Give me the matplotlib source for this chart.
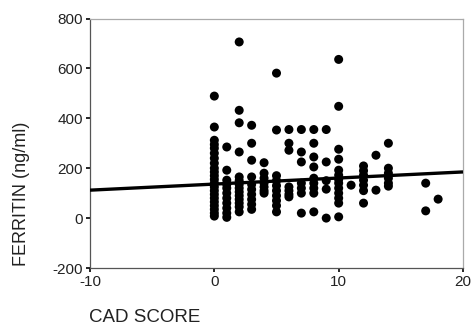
import matplotlib.pyplot as plt

# CAD score (x) and ferritin in ng/ml (y), one row of values per score column
cad_score = (
    [0] * 22
    + [1] * 11
    + [2] * 14
    + [3] * 10
    + [4] * 7
    + [5] * 10
    + [6] * 7
    + [7] * 7
    + [8] * 9
    + [9] * 5
    + [10] * 13
    + [11] * 1
    + [12] * 7
    + [13] * 2
    + [14] * 6
    + [17] * 2
    + [18] * 1
)
ferritin = (
    [489, 365, 312, 295, 280, 260, 240, 220, 200, 185, 170,
     155, 140, 125, 110, 95, 80, 65, 50, 35, 20, 8]
    + [285, 192, 152, 135, 120, 100, 80, 60, 40, 20, 3]
    + [706, 432, 382, 265, 165, 150, 135, 120, 105, 90, 75, 60, 45, 25]
    + [372, 300, 232, 165, 135, 115, 95, 75, 55, 35]
    + [222, 180, 160, 140, 125, 110, 100]
    + [581, 353, 170, 150, 130, 110, 90, 70, 50, 25]
    + [355, 300, 272, 125, 110, 95, 85]
    + [355, 265, 225, 140, 120, 100, 20]
    + [355, 300, 245, 205, 160, 140, 120, 100, 25]
    + [355, 225, 150, 116, 0]
    + [636, 448, 276, 236, 192, 172, 155, 140, 120, 100, 80, 60, 5]
    + [132]
    + [209, 190, 172, 152, 132, 110, 60]
    + [252, 112]
    + [300, 200, 180, 160, 140, 128]
    + [140, 29]
    + [76]
)

# fitted regression line, read at the ends of the x range
fit_x = [-10, 20]
fit_y = [112, 185]

x_ticks = [-10, 0, 10, 20]
y_ticks = [-200, 0, 200, 400, 600, 800]

plt.rcParams["font.family"] = ["Liberation Sans", "DejaVu Sans"]
plt.rcParams["axes.unicode_minus"] = False

fig = plt.figure(figsize=(4.73, 3.27), dpi=100)
ax = fig.add_axes([90 / 473, 1 - 268 / 327, 373 / 473, 249.5 / 327])

ax.scatter(cad_score, ferritin, s=42, c="black", edgecolors="none", zorder=3)
ax.plot(fit_x, fit_y, color="black", linewidth=2.4, solid_capstyle="butt", zorder=4)

ax.set_xlim(-10, 20)
ax.set_ylim(-200, 800)
ax.set_xticks(x_ticks)
ax.set_yticks(y_ticks)
ax.tick_params(direction="out", length=3, width=1.2, color="black",
               labelsize=11, pad=2, labelcolor="#222222")

for side in ["left", "bottom"]:
    ax.spines[side].set_color("#555555")
    ax.spines[side].set_linewidth(0.9)
for side in ["top", "right"]:
    ax.spines[side].set_color("#aaaaaa")
    ax.spines[side].set_linewidth(0.9)

fig.text(145 / 473, 1 - 318 / 327, "CAD SCORE", fontsize=13.5,
         ha="center", va="center", color="#222222")
fig.text(22 / 473, 1 - 194 / 327, "FERRITIN (ng/ml)", fontsize=13,
         rotation=90, ha="center", va="center", color="#222222")

fig.savefig("out.png", dpi=100)
